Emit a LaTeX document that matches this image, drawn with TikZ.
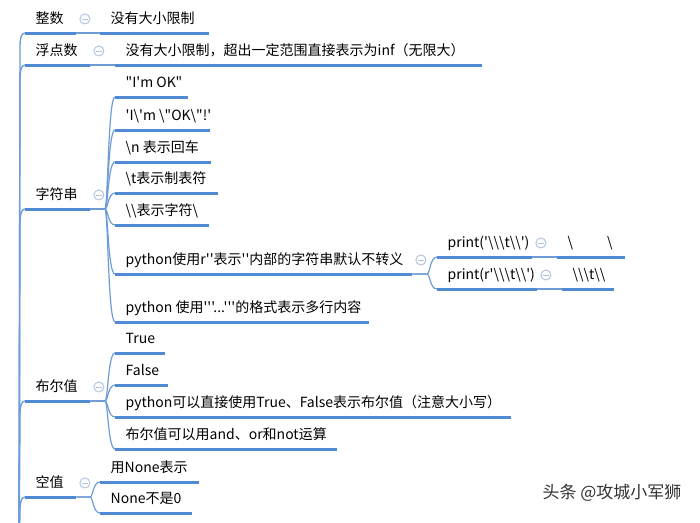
\documentclass[tikz,border=0pt]{standalone}
\usepackage{fontspec}
\setmainfont{Noto Sans CJK SC}[Ligatures=TeXOff]
\newcommand\bsl{\textbackslash}
\definecolor{lineblue}{HTML}{4F8AD2}
\definecolor{connblue}{HTML}{6E9CD8}
\definecolor{circgray}{HTML}{AFC0DE}
\begin{document}
\begin{tikzpicture}[x=1pt,y=-1pt,
  topic/.style={anchor=south west, inner xsep=10.5pt, inner ysep=0pt,
    minimum height=28pt, text height=13pt, text depth=3pt,
    font=\fontsize{14}{16}\selectfont},
  uline/.style={line width=3pt, lineblue},
  conn/.style={line width=1.2pt, connblue},
  trunk/.style={line width=1.4pt, connblue},
  collapse/.style={circle, draw=circgray, line width=0.9pt, fill=white,
    minimum size=10pt, inner sep=0pt,
    path picture={\draw[circgray, line width=1pt]
      ([xshift=-2.6pt]path picture bounding box.center) --
      ([xshift=2.6pt]path picture bounding box.center);}}]
\useasboundingbox (0,0) rectangle (700,522);
\clip (0,0) rectangle (700,522);
\fill[white] (0,0) rectangle (700,522);

% main branches
\node[topic] (zs)   at (25,33)  {\makebox[30pt][l]{整数}};
\node[topic] (fd)   at (25,65)  {\makebox[44pt][l]{浮点数}};
\node[topic] (zfc)  at (25,209) {\makebox[44pt][l]{字符串}};
\node[topic] (bool) at (25,401) {\makebox[44pt][l]{布尔值}};
\node[topic] (kz)   at (25,497) {\makebox[30pt][l]{空值}};

% children
\node[topic] (zs1) at (100,33) {\makebox[88pt][l]{没有大小限制}};
\node[topic] (fd1) at (115,65) {\makebox[346pt][l]{没有大小限制，超出一定范围直接表示为inf（无限大）}};

\node[topic] (s1) at (115,97)  {\makebox[52pt][l]{"I'm OK"}};
\node[topic] (s2) at (115,130) {\makebox[74pt][l]{'I\bsl{}'m \bsl{}"OK\bsl{}"!'}};
\node[topic] (s3) at (115,162) {\makebox[75pt][l]{\bsl{}n 表示回车}};
\node[topic] (s4) at (115,193) {\makebox[82pt][l]{\bsl{}t表示制表符}};
\node[topic] (s5) at (115,225) {\makebox[73pt][l]{\bsl\bsl{}表示字符\bsl{}}};
\node[topic] (s6) at (115,274) {\makebox[276pt][l]{python使用r''表示''内部的字符串默认不转义}};
\node[topic] (s7) at (115,322) {\makebox[233pt][l]{python 使用'''...'''的格式表示多行内容}};

\node[topic] (p1)  at (437,257) {\makebox[74pt][l]{print('\bsl\bsl\bsl{}t\bsl\bsl{}')}};
\node[topic] (p2)  at (437,289) {\makebox[79pt][l]{print(r'\bsl\bsl\bsl{}t\bsl\bsl{}')}};
\node[topic] (p1o) at (557,257) {\makebox[47pt][l]{\bsl{}\hspace{34pt}\bsl{}}};
\node[topic] (p2o) at (562,289) {\makebox[31pt][l]{\bsl\bsl\bsl{}t\bsl\bsl{}}};

\node[topic] (b1) at (115,353) {\makebox[29pt][l]{True}};
\node[topic] (b2) at (115,385) {\makebox[32pt][l]{False}};
\node[topic] (b3) at (115,417) {\makebox[375pt][l]{python可以直接使用True、False表示布尔值（注意大小写）}};
\node[topic] (b4) at (115,449) {\makebox[201pt][l]{布尔值可以用and、or和not运算}};

\node[topic] (k1) at (100,482) {\makebox[78pt][l]{用None表示}};
\node[topic] (k2) at (100,513) {\makebox[71pt][l]{None不是0}};

% trunk towards the (off-page) root
\coordinate (root) at (19,560);
\foreach \b in {zs,fd,zfc,bool,kz}
  \draw[trunk] (\b.south west) .. controls +(-4,0) and +(0,-8) ..
    ([shift={(-5,14)}]\b.south west) -- (root);

% connectors parent -> child
\foreach \p/\c in {zs/zs1, fd/fd1,
    zfc/s1, zfc/s2, zfc/s3, zfc/s4, zfc/s5, zfc/s6, zfc/s7,
    s6/p1, s6/p2, p1/p1o, p2/p2o,
    bool/b1, bool/b2, bool/b3, bool/b4,
    kz/k1, kz/k2}
  \draw[conn] (\p.south east) -- ([xshift=-10pt]\c.south west |- \p.south east)
    .. controls +(3,0) and +(-7,0) .. (\c.south west);

% underlines
\foreach \n in {zs,fd,zfc,bool,kz,zs1,fd1,s1,s2,s3,s4,s5,s6,s7,
    p1,p2,p1o,p2o,b1,b2,b3,b4,k1,k2}
  \draw[uline] (\n.south west) -- (\n.south east);

% collapse markers
\foreach \p/\n in {zs/c1, fd/c2, zfc/c3, s6/c4, p1/c5, p2/c6, bool/c7, kz/c8}
  \node[collapse] (\n) at ([shift={(8.5,-14)}]\p.south east) {};

% watermark
\node[font=\fontsize{17}{19}\selectfont, text=black!80] (wm) at (612,493) {头条 @攻城小军狮};
\end{tikzpicture}
\end{document}
